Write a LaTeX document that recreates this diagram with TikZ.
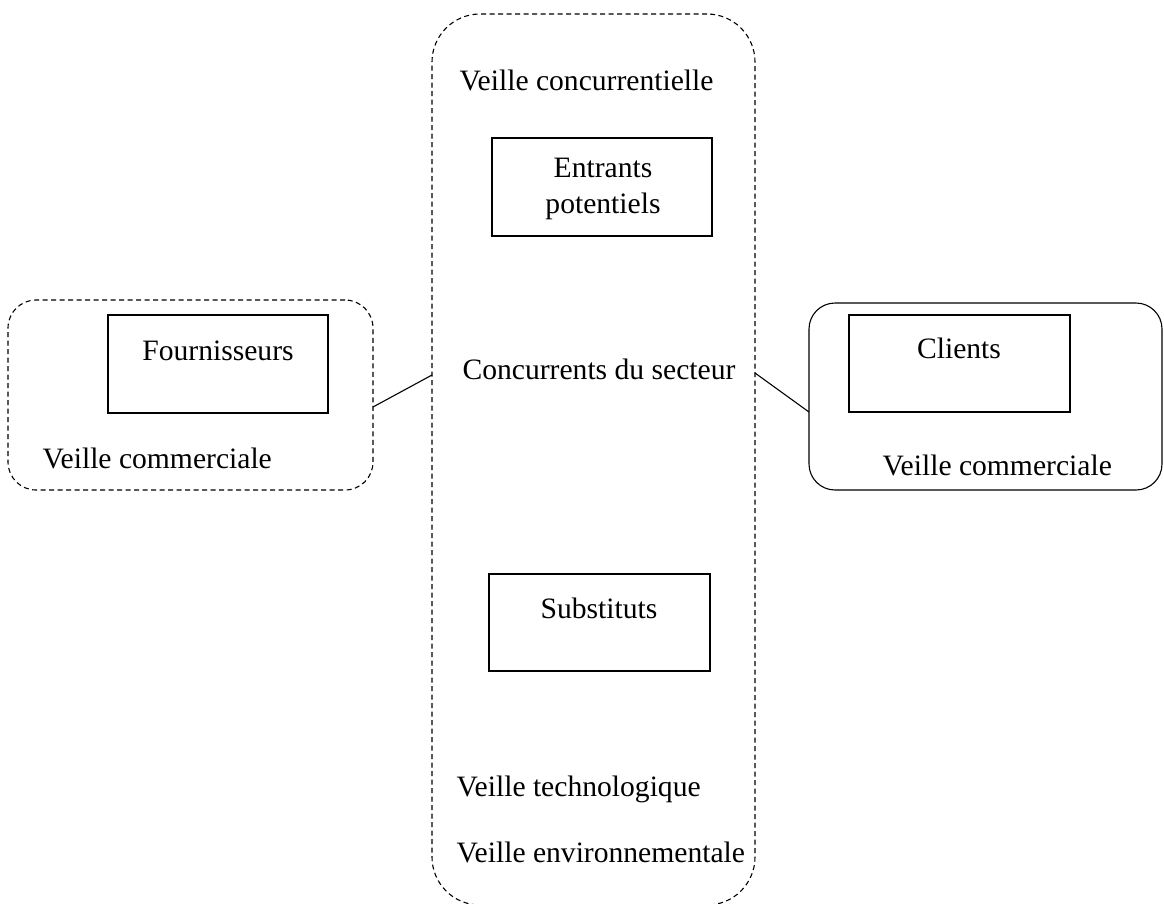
\documentclass[tikz,border=0pt]{standalone}
\usepackage{fontspec}
\setmainfont{Liberation Serif}
\begin{document}
\begin{tikzpicture}[x=1pt,y=-1pt,
  line width=1.1pt,
  zone/.style={draw, rectangle, inner sep=0pt, outer sep=0pt},
  dashzone/.style={zone, dash pattern=on 5pt off 3.5pt},
  box/.style={draw, rectangle, inner sep=0pt, outer sep=0pt, line width=1.1pt},
  lbl/.style={inner sep=0pt, font=\fontsize{29.6}{36}\selectfont},
  link/.style={line width=1.1pt}]
\useasboundingbox (0,0) rectangle (1164,903);

% central monitoring zone (competition)
\node[dashzone, rounded corners=48pt, minimum width=323pt, minimum height=891pt] (central) at (593.5,459.5) {};
% supplier zone
\node[dashzone, rounded corners=28pt, minimum width=365pt, minimum height=190pt] (fzone) at (190.5,395) {};
% customer zone
\node[zone, rounded corners=26pt, minimum width=353pt, minimum height=187pt] (czone) at (985.5,396.5) {};

% inner boxes
\node[box, minimum width=220pt, minimum height=98pt] (fourn) at (218,364) {};
\node[box, minimum width=221pt, minimum height=97pt] (clients) at (959.5,363.5) {};
\node[box, minimum width=220pt, minimum height=98pt] (entrants) at (602,187) {};
\node[box, minimum width=221pt, minimum height=97pt] (subst) at (599.5,622.5) {};

% labels
\node[lbl, anchor=base west] (tconc) at (459,90) {Veille concurrentielle};
\node[lbl, anchor=base] (tentr1) at (603,177) {Entrants};
\node[lbl, anchor=base] (tentr2) at (603,213) {potentiels};
\node[lbl, anchor=base] (tfourn) at (218,360) {Fournisseurs};
\node[lbl, anchor=base west] (tvcl) at (42,468) {Veille commerciale};
\node[lbl, anchor=base] (tcli) at (959,358) {Clients};
\node[lbl, anchor=base west] (tvcr) at (882,475) {Veille commerciale};
\node[lbl, anchor=base] (tsect) at (599,379) {Concurrents du secteur};
\node[lbl, anchor=base] (tsubst) at (599,618) {Substituts};
\node[lbl, anchor=base west] (ttech) at (456,796) {Veille technologique};
\node[lbl, anchor=base west] (tenv) at (456,862) {Veille environnementale};

% connectors
\draw[link] ([yshift=-12pt]fzone.east) -- ([yshift=84.5pt]central.west);
\draw[link] ([yshift=86.5pt]central.east) -- ([yshift=-15.5pt]czone.west);
\end{tikzpicture}
\end{document}
